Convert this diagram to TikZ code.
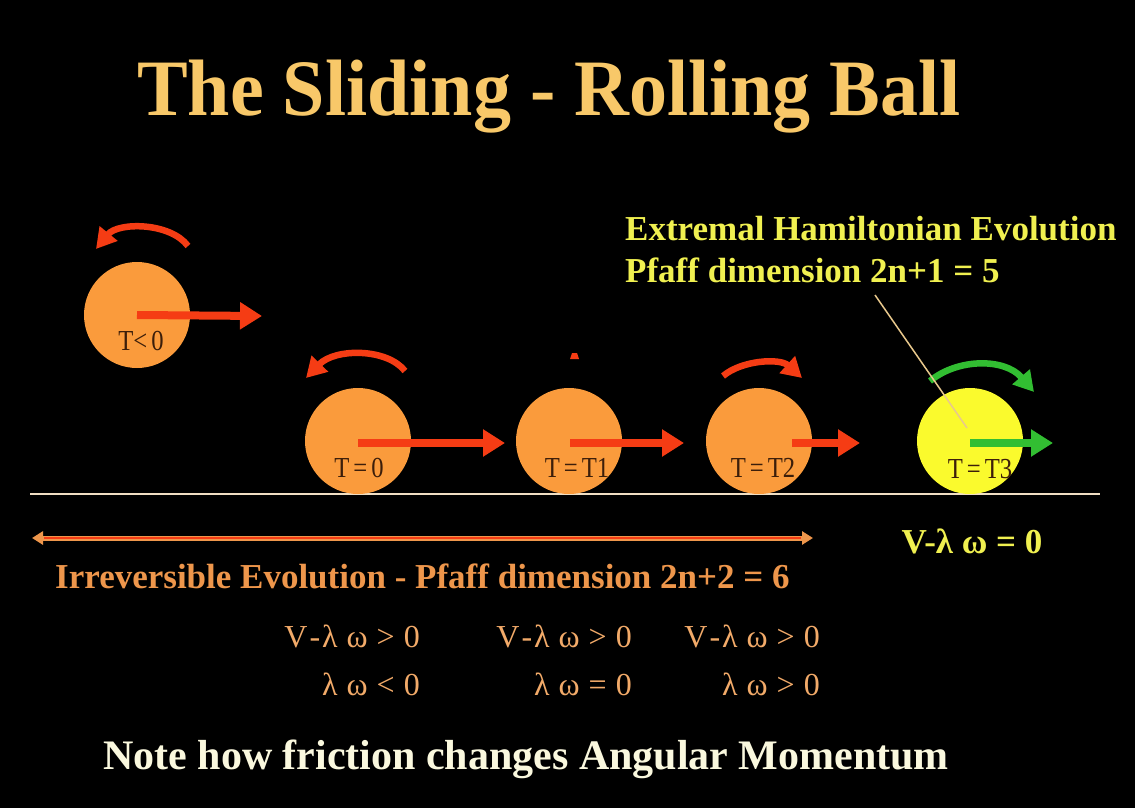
\documentclass[tikz,border=0pt]{standalone}
\usepackage{fontspec}
\setmainfont{Liberation Serif}
\newfontfamily\cnd[FakeStretch=0.95]{Liberation Serif}
\newfontfamily\lblf[FakeStretch=0.85]{Liberation Serif}
\usetikzlibrary{arrows.meta}
\definecolor{ballor}{RGB}{250,155,60}
\definecolor{ballye}{RGB}{250,250,45}
\definecolor{arred}{RGB}{245,60,20}
\definecolor{argreen}{RGB}{50,190,50}
\definecolor{titlec}{RGB}{248,200,105}
\definecolor{orangetxt}{RGB}{238,150,75}
\definecolor{yeltxt}{RGB}{240,240,80}
\definecolor{creamtxt}{RGB}{250,248,222}
\definecolor{rowtxt}{RGB}{242,170,105}
\definecolor{lbltxt}{RGB}{60,30,10}
\definecolor{groundc}{RGB}{240,222,195}
\definecolor{leaderc}{RGB}{232,200,140}
\newcommand\rgap{\hspace{9pt}}
\newcommand\rsgap{\hspace{2pt}}
\newcommand\lblgap{\hspace{4pt}}
\tikzset{
  ball/.style={circle, minimum size=106pt, inner sep=0pt, draw=none},
  lbl/.style={text=lbltxt, font=\lblf\fontsize{29}{32}\selectfont, inner sep=0pt, anchor=base},
  straw/.style={line width=8pt, -{Triangle[length=22pt,width=26pt]}},
  curvaw/.style={line width=6.5pt, -{Triangle[length=20pt,width=22pt]}},
  rowt/.style={text=rowtxt, font=\fontsize{32}{34}\selectfont, inner sep=0pt, anchor=base east},
}
\begin{document}
\begin{tikzpicture}[x=1pt,y=-1pt]
\fill[black] (0,0) rectangle (1135,808);
\useasboundingbox (0,0) rectangle (1135,808);

% title
\node[text=titlec, font=\cnd\bfseries\fontsize{80}{84}\selectfont, inner sep=0pt, anchor=base] (title) at (549,115) {The Sliding - Rolling Ball};

% ground line
\coordinate (g1) at (30,494);
\coordinate (g2) at (1100,494);
\draw[groundc, line width=2pt] (g1) -- (g2);

% balls
\node[ball, fill=ballor] (b1) at (137,315) {};
\node[ball, fill=ballor] (b2) at (358,441) {};
\node[ball, fill=ballor] (b3) at (569,441) {};
\node[ball, fill=ballor] (b4) at (759,441) {};
\node[ball, fill=ballye] (b5) at (970,441) {};

% labels in balls
\node[lbl] (l1) at (141,350) {T<\lblgap 0};
\node[lbl] (l2) at (359,477) {T\lblgap =\lblgap 0};
\node[lbl] (l3) at (577,477) {T\lblgap =\lblgap T1};
\node[lbl] (l4) at (763,477) {T\lblgap =\lblgap T2};
\node[lbl] (l5) at (980,478) {T\lblgap =\lblgap T3};

% straight arrows
\coordinate (a1e) at (262,316);
\coordinate (a2e) at (505,443);
\coordinate (a3s) at (570,443); \coordinate (a3e) at (684,443);
\coordinate (a4s) at (792,443); \coordinate (a4e) at (860,443);
\coordinate (a5e) at (1053,443);
\draw[straw, arred] (b1.center) -- (a1e);
\draw[straw, arred] ([yshift=-2pt]b2.center) -- (a2e);
\draw[straw, arred] (a3s) -- (a3e);
\draw[straw, arred] (a4s) -- (a4e);
\draw[straw, argreen] ([yshift=-2pt]b5.center) -- (a5e);

% curved arrows
\coordinate (c1s) at (188,246); \coordinate (c1e) at (96,249);
\coordinate (c2s) at (405,371); \coordinate (c2e) at (306,378);
\coordinate (c4s) at (723,376); \coordinate (c4e) at (802,378);
\coordinate (c5s) at (930,381); \coordinate (c5e) at (1034,392);
\draw[curvaw, arred] (c1s) .. controls (170,222) and (118,222) .. (c1e);
\draw[curvaw, arred] (c2s) .. controls (387,348) and (335,348) .. (c2e);
\draw[curvaw, arred] (c4s) .. controls (742,360) and (780,358) .. (c4e);
\draw[curvaw, argreen] (c5s) .. controls (958,358) and (1005,358) .. (c5e);

% tiny red mark
\fill[arred] (570,359) -- (572,353) -- (577,353) -- (579,359) -- cycle;

% extremal text
\node[text=yeltxt, font=\bfseries\fontsize{35}{38}\selectfont, inner sep=0pt, anchor=base west] (ext1) at (625,240) {Extremal Hamiltonian Evolution};
\node[text=yeltxt, font=\bfseries\fontsize{35}{38}\selectfont, inner sep=0pt, anchor=base west] (ext2) at (625,282) {Pfaff dimension 2n+1 = 5};
\coordinate (ld) at (875,295);
\coordinate (lt) at (967,428);
\draw[leaderc, line width=1.5pt] (ld) -- (lt);

% V - lambda omega = 0
\node[text=yeltxt, font=\bfseries\fontsize{35}{38}\selectfont, inner sep=0pt, anchor=base] (vz) at (972,553) {V-λ ω = 0};

% double arrow
\coordinate (d1) at (32,538);
\coordinate (d2) at (813,538);
\draw[orangetxt, line width=5pt, {Triangle[length=11pt,width=13pt]}-{Triangle[length=11pt,width=13pt]}] (d1) -- (d2);
\draw[arred, line width=1.8pt] (44,538) -- (801,538);

% irreversible text
\node[text=orangetxt, font=\bfseries\fontsize{35}{38}\selectfont, inner sep=0pt, anchor=base west] (irr) at (55,588) {Irreversible Evolution - Pfaff dimension 2n+2 = 6};

% rows
\node[rowt] (r1a) at (420,647) {V\rsgap-\rsgap λ\rgap ω\rgap >\rgap 0};
\node[rowt] (r1b) at (632,647) {V\rsgap-\rsgap λ\rgap ω\rgap >\rgap 0};
\node[rowt] (r1c) at (820,647) {V\rsgap-\rsgap λ\rgap ω\rgap >\rgap 0};
\node[rowt] (r2a) at (420,695) {λ\rgap ω\rgap <\rgap 0};
\node[rowt] (r2b) at (632,695) {λ\rgap ω\rgap =\rgap 0};
\node[rowt] (r2c) at (820,695) {λ\rgap ω\rgap >\rgap 0};

% bottom note
\node[text=creamtxt, font=\bfseries\fontsize{42}{45}\selectfont, inner sep=0pt, anchor=base west] (note) at (103,769) {Note how friction changes Angular Momentum};
\end{tikzpicture}
\end{document}
